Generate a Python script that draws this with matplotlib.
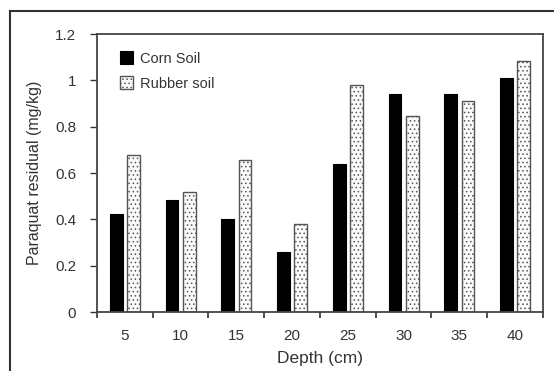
import numpy as np
import matplotlib.pyplot as plt
from matplotlib.lines import Line2D

depths = ["5", "10", "15", "20", "25", "30", "35", "40"]
corn_soil = [0.424, 0.483, 0.402, 0.26, 0.64, 0.94, 0.94, 1.012]
rubber_soil = [0.677, 0.519, 0.655, 0.38, 0.98, 0.848, 0.912, 1.085]

plt.rcParams["font.family"] = ["Liberation Sans", "DejaVu Sans"]
plt.rcParams["hatch.color"] = "#b0b0b0"
plt.rcParams["hatch.linewidth"] = 0.6

fig = plt.figure(figsize=(5.54, 3.71), dpi=100)
ax = fig.add_axes([0.175, 0.159, 0.805, 0.749])

x = np.arange(len(depths))
w = 0.23
ax.bar(x - 0.155, corn_soil, w, color="black", edgecolor="black",
       linewidth=0.8, label="Corn Soil")
ax.bar(x + 0.155, rubber_soil, w, color="#fafafa", edgecolor="#555555",
       linewidth=1.0, hatch="....", label="Rubber soil")

ax.set_xlim(-0.5, len(depths) - 0.5)
ax.set_ylim(0, 1.2)
ax.set_yticks([0, 0.2, 0.4, 0.6, 0.8, 1.0, 1.2])
ax.set_yticklabels(["0", "0.2", "0.4", "0.6", "0.8", "1", "1.2"])
ax.set_xticks(x)
ax.set_xticklabels(depths)
ax.set_xticks(np.arange(len(depths) + 1) - 0.5, minor=True)

txt = "#333333"
ax.tick_params(axis="x", which="major", length=0, pad=12, labelsize=11, colors=txt)
ax.tick_params(axis="x", which="minor", length=4, width=1.2, color="#333333")
ax.tick_params(axis="y", length=5, width=1, pad=10, labelsize=11, colors=txt)
for s in ax.spines.values():
    s.set_color("#444444")
    s.set_linewidth(1.3)

ax.set_xlabel("Depth (cm)", fontsize=12.5, color=txt, labelpad=6)
ax.set_ylabel("Paraquat residual (mg/kg)", fontsize=11.5, color=txt, labelpad=9)

ax.legend(loc="upper left", bbox_to_anchor=(0.022, 0.985), frameon=False,
          fontsize=10.5, handlelength=0.9, handleheight=0.9,
          handletextpad=0.5, labelspacing=0.75, labelcolor=txt)

# outer frame (top and left only)
fig.add_artist(Line2D([0.018, 1.0], [0.970, 0.970], color="#333333", lw=1.5))
fig.add_artist(Line2D([0.018, 0.018], [0.0, 0.970], color="#333333", lw=1.5))

fig.savefig("out.png", dpi=100)
